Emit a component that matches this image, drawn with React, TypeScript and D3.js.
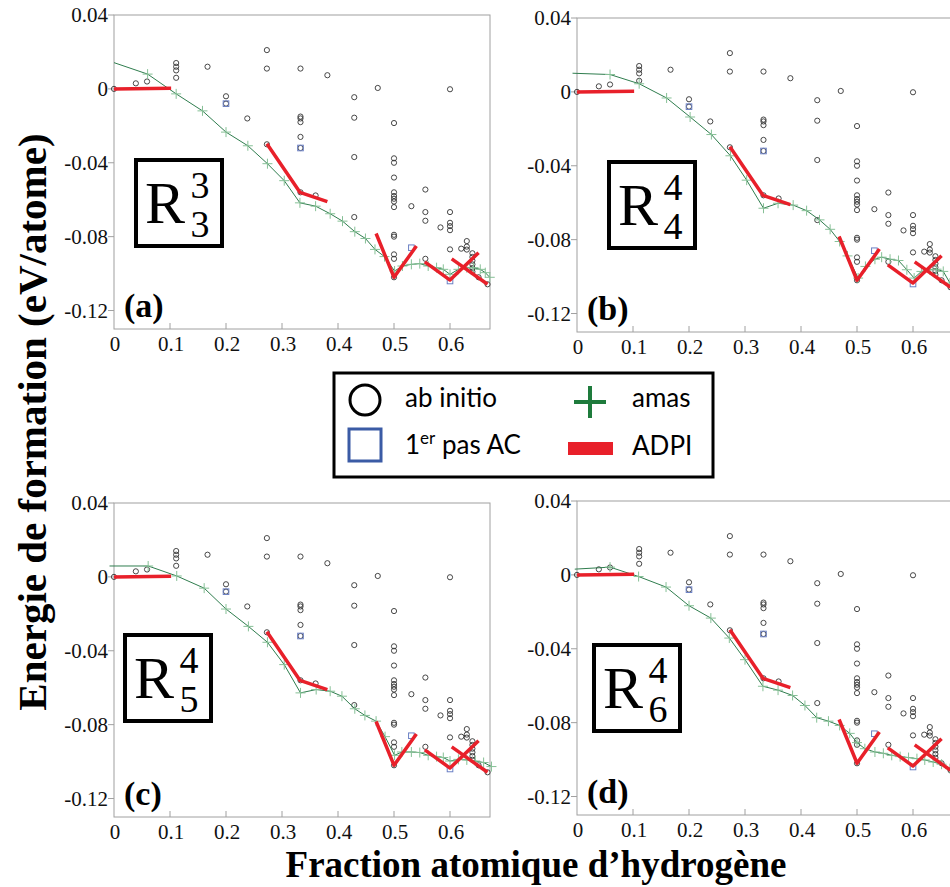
import React from "react";
import * as d3 from "d3";

// ---------- DATA ----------
const xTicks = [0, 0.1, 0.2, 0.3, 0.4, 0.5, 0.6];
const yTicks = [0.04, 0, -0.04, -0.08, -0.12];
const yTickLabels = ["0.04", "0", "-0.04", "-0.08", "-0.12"];

// ab initio (shared by all panels): [x, energy]
const abInitio: [number, number][] = [
  [0, 0], [0.039, 0.003], [0.059, 0.004],
  [0.111, 0.014], [0.111, 0.012], [0.111, 0.01], [0.111, 0.006],
  [0.167, 0.012],
  [0.2, -0.004], [0.2, -0.008],
  [0.238, -0.016],
  [0.273, 0.021], [0.273, 0.011], [0.273, -0.03],
  [0.333, 0.011], [0.333, -0.015], [0.333, -0.016], [0.333, -0.018], [0.333, -0.026], [0.333, -0.032], [0.333, -0.056],
  [0.36, -0.0577], [0.381, 0.0074],
  [0.429, -0.0045], [0.429, -0.0156], [0.429, -0.0369], [0.429, -0.0694],
  [0.471, 0.0005],
  [0.5, -0.0185], [0.5, -0.0376], [0.5, -0.04], [0.5, -0.048], [0.5, -0.056], [0.5, -0.058], [0.5, -0.0595],
  [0.5, -0.061], [0.5, -0.064], [0.5, -0.079], [0.5, -0.08], [0.5, -0.0896], [0.5, -0.092], [0.5, -0.102],
  [0.531, -0.0635],
  [0.556, -0.0545], [0.556, -0.0667], [0.556, -0.0714], [0.556, -0.092],
  [0.583, -0.075],
  [0.6, -0.0002], [0.6, -0.0667], [0.6, -0.0725], [0.6, -0.0743], [0.6, -0.0765], [0.6, -0.0869],
  [0.62, -0.0865],
  [0.63, -0.0824], [0.63, -0.0854], [0.63, -0.087],
  [0.64, -0.089], [0.64, -0.091], [0.64, -0.093], [0.64, -0.095], [0.64, -0.097], [0.64, -0.099],
  [0.651, -0.102], [0.667, -0.1058],
];

// 1er pas AC (shared)
const premierPas: [number, number][] = [
  [0.2, -0.008], [0.333, -0.032], [0.531, -0.086], [0.6, -0.104],
];

// ADPI segments (shared)
const adpi1: [number, number][] = [[0, 0], [0.102, 0.0004]];
const adpi2: [number, number][] = [[0.273, -0.0297], [0.332, -0.056], [0.381, -0.061]];
const adpi3: [number, number][] = [[0.468, -0.0783], [0.5, -0.102], [0.54, -0.0851]];
const adpi4: [number, number][] = [[0.555, -0.0937], [0.6, -0.1035], [0.651, -0.0887]];
const adpi5: [number, number][] = [[0.603, -0.092], [0.667, -0.1058]];
const adpiSegments = [adpi1, adpi2, adpi3, adpi4, adpi5];

// amas per panel
const amasA: [number, number][] = [
  [0, 0.0142], [0.06, 0.008], [0.111, -0.0027], [0.158, -0.0119], [0.2, -0.0234], [0.239, -0.0308],
  [0.274, -0.0405], [0.304, -0.0497], [0.332, -0.0617], [0.36, -0.0635], [0.386, -0.0676], [0.408, -0.0716],
  [0.43, -0.0773], [0.449, -0.081], [0.466, -0.0869], [0.483, -0.0908], [0.501, -0.0986], [0.515, -0.0959],
  [0.531, -0.095], [0.546, -0.0946], [0.561, -0.0959], [0.576, -0.0968], [0.588, -0.0977], [0.6, -0.1004],
  [0.615, -0.0977], [0.63, -0.0968], [0.642, -0.0968], [0.654, -0.0977], [0.663, -0.0995], [0.671, -0.102],
];
const amasB: [number, number][] = [
  [-0.008, 0.0101], [0.059, 0.0094], [0.111, 0.0044], [0.16, -0.0033], [0.202, -0.0136], [0.24, -0.0231],
  [0.274, -0.0346], [0.303, -0.0478], [0.333, -0.063], [0.359, -0.0603], [0.386, -0.0613], [0.41, -0.0643],
  [0.433, -0.0693], [0.452, -0.0744], [0.469, -0.081], [0.483, -0.0888], [0.502, -0.1008], [0.515, -0.0945],
  [0.532, -0.0906], [0.544, -0.0895], [0.559, -0.0906], [0.574, -0.0913], [0.589, -0.0963], [0.602, -0.1008],
  [0.615, -0.0972], [0.63, -0.0963], [0.642, -0.096], [0.654, -0.0972], [0.666, -0.1035],
];
const amasC: [number, number][] = [
  [-0.008, 0.0059], [0.061, 0.0059], [0.112, 0.0005], [0.161, -0.0061], [0.2, -0.0174], [0.24, -0.0268],
  [0.274, -0.0354], [0.304, -0.0475], [0.333, -0.0628], [0.361, -0.061], [0.386, -0.0619], [0.407, -0.0646],
  [0.43, -0.0714], [0.448, -0.075], [0.468, -0.0781], [0.484, -0.0865], [0.501, -0.0966], [0.514, -0.0948],
  [0.531, -0.0948], [0.546, -0.0951], [0.561, -0.0966], [0.576, -0.0973], [0.588, -0.0978], [0.6, -0.0997],
  [0.615, -0.0988], [0.63, -0.0991], [0.645, -0.0997], [0.66, -0.1005], [0.674, -0.1027],
];
const amasD: [number, number][] = [
  [-0.004, 0.0031], [0.059, 0.0042], [0.11, -0.0009], [0.159, -0.0066], [0.2, -0.0167], [0.239, -0.0234],
  [0.272, -0.0342], [0.3, -0.0459], [0.332, -0.0603], [0.359, -0.0624], [0.385, -0.0653], [0.407, -0.0707],
  [0.428, -0.0773], [0.449, -0.0792], [0.469, -0.0815], [0.487, -0.0858], [0.5, -0.0908], [0.514, -0.0941],
  [0.532, -0.0959], [0.547, -0.0966], [0.562, -0.0977], [0.577, -0.0984], [0.592, -0.0989], [0.607, -0.0995],
  [0.621, -0.1002], [0.636, -0.1013], [0.651, -0.1025], [0.666, -0.1049],
];

const panelLetters = ["a", "b", "c", "d"];
const panelSup = ["3", "4", "4", "4"];
const panelSub = ["3", "4", "5", "6"];
const panelAmas = [amasA, amasB, amasC, amasD];

// ---------- LAYOUT ----------
const W = 376;
const H = 314;
const panelPos = [
  { left: 114, top: 15, bx: 22, by: 145 },
  { left: 577, top: 18, bx: 32, by: 144 },
  { left: 114, top: 503, bx: 11, by: 132 },
  { left: 577, top: 501, bx: 17, by: 144 },
];
const SERIF = "'Times New Roman', 'Liberation Serif', 'DejaVu Serif', serif";
const SANS = "Lato";
const AXIS = "#a0a0a0";

const x = d3.scaleLinear().domain([0, 0.6714]).range([0, W]);
const y = d3.scaleLinear().domain([-0.13, 0.04]).range([H, 0]);
const line = d3.line<[number, number]>().x((d) => x(d[0])).y((d) => y(d[1]));

function Panel({ i }: { i: number }) {
  const p = panelPos[i];
  const amas = panelAmas[i];
  return (
    <g transform={`translate(${p.left},${p.top})`} style={{ fontFamily: SERIF }}>
      <rect x={0} y={0} width={W} height={H} fill="none" stroke={AXIS} strokeWidth={1} />
      {yTicks.map((t, k) => (
        <g key={k}>
          <line x1={-6} x2={0} y1={y(t)} y2={y(t)} stroke={AXIS} />
          <text x={-6} y={y(t) + 7} textAnchor="end" fontSize={21} fill="#111">
            {yTickLabels[k]}
          </text>
        </g>
      ))}
      {xTicks.map((t, k) => (
        <g key={k}>
          {t > 0 && <line x1={x(t)} x2={x(t)} y1={H} y2={H - 6} stroke={AXIS} />}
          <text x={x(t) + 1} y={H + 22} textAnchor="middle" fontSize={21} fill="#111">
            {String(t)}
          </text>
        </g>
      ))}
      {abInitio.map((d, k) => (
        <circle key={k} cx={x(d[0])} cy={y(d[1])} r={2.6} fill="none" stroke="#333" strokeWidth={0.9} />
      ))}
      {premierPas.map((d, k) => (
        <rect key={k} x={x(d[0]) - 2.8} y={y(d[1]) - 2.8} width={5.6} height={5.6} fill="none" stroke="#6a7fc4" strokeWidth={1} />
      ))}
      <path d={line(amas) || ""} fill="none" stroke="#2f7d4e" strokeWidth={1} />
      {amas.filter((d) => d[0] > 0.01).map((d, k) => (
        <g key={k} stroke="#86c096" strokeWidth={1}>
          <line x1={x(d[0]) - 5} x2={x(d[0]) + 5} y1={y(d[1])} y2={y(d[1])} />
          <line x1={x(d[0])} x2={x(d[0])} y1={y(d[1]) - 5} y2={y(d[1]) + 5} />
        </g>
      ))}
      {adpiSegments.map((s, k) => (
        <path key={k} d={line(s) || ""} fill="none" stroke="#e8202a" strokeWidth={3.5} strokeLinejoin="round" />
      ))}
      <g transform={`translate(${p.bx},${p.by})`}>
        <rect x={0} y={0} width={86} height={86} fill="white" stroke="#000" strokeWidth={4} />
        <text x={9} y={63} fontSize={60} fill="#000">R</text>
        <text x={64} y={38} textAnchor="middle" fontSize={38} fill="#000">{panelSup[i]}</text>
        <text x={64} y={77} textAnchor="middle" fontSize={38} fill="#000">{panelSub[i]}</text>
      </g>
      <text x={10} y={302} fontWeight="bold" fontSize={34} fill="#000">
        ({panelLetters[i]})
      </text>
    </g>
  );
}

function Legend() {
  return (
    <g style={{ fontFamily: SANS }}>
      <rect x={334} y={373} width={379} height={104} fill="white" stroke="#000" strokeWidth={3} />
      <circle cx={365} cy={400} r={15} fill="none" stroke="#000" strokeWidth={3} />
      <text x={405} y={407} fontSize={26} fill="#000">ab initio</text>
      <rect x={349} y={429} width={32} height={32} fill="none" stroke="#3b5ba5" strokeWidth={3} />
      <text x={405} y={454} fontSize={26} fill="#000">
        1<tspan dy={-10} fontSize={17}>er</tspan><tspan dy={10}> pas AC</tspan>
      </text>
      <g stroke="#1e7b3c" strokeWidth={4}>
        <line x1={574} x2={606} y1={402} y2={402} />
        <line x1={590} x2={590} y1={386} y2={418} />
      </g>
      <text x={632} y={407} fontSize={26} fill="#000">amas</text>
      <rect x={568} y={442} width={45} height={13} fill="#e8202a" />
      <text x={632} y={455} fontSize={26} fill="#000">ADPI</text>
    </g>
  );
}

export default function App() {
  return (
    <svg
      width={950}
      height={887}
      style={{ position: "absolute", left: 0, top: 0, background: "white", fontFamily: SERIF }}
    >
      {[0, 1, 2, 3].map((i) => (
        <Panel key={i} i={i} />
      ))}
      <Legend />
      <text
        transform="translate(46,422) rotate(-90)"
        textAnchor="middle"
        fontWeight="bold"
        fontSize={41}
        fill="#000"
      >
        Energie de formation (eV/atome)
      </text>
      <text x={536} y={877} textAnchor="middle" fontWeight="bold" fontSize={37} fill="#000">
        Fraction atomique d’hydrogène
      </text>
    </svg>
  );
}
